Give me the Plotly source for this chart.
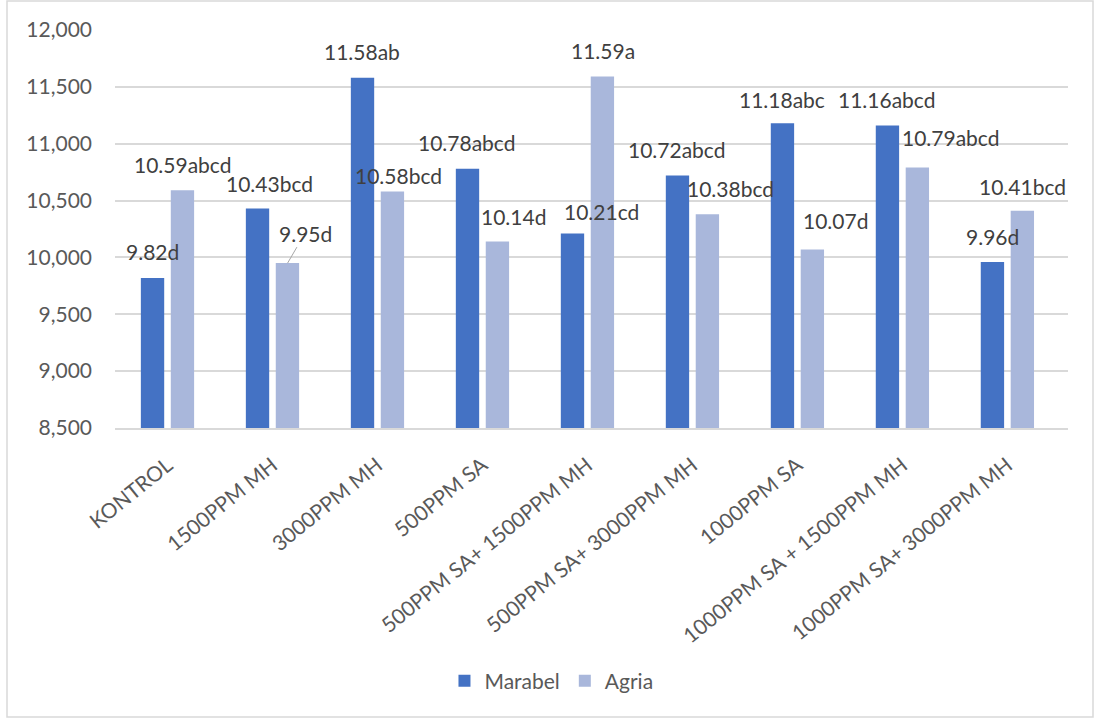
import plotly.graph_objects as go

# Treatments (x categories)
treatments = [
    "KONTROL",
    "1500PPM MH",
    "3000PPM MH",
    "500PPM SA",
    "500PPM SA+ 1500PPM MH",
    "500PPM SA+ 3000PPM MH",
    "1000PPM SA",
    "1000PPM SA + 1500PPM MH",
    "1000PPM SA+ 3000PPM MH",
]

# Yield values per variety
marabel = [9820, 10430, 11580, 10780, 10210, 10720, 11180, 11160, 9960]
agria = [10590, 9950, 10580, 10140, 11590, 10380, 10070, 10790, 10410]

# Significance letters shown after each mean
marabel_letters = ["d", "bcd", "ab", "abcd", "cd", "abcd", "abc", "abcd", "d"]
agria_letters = ["abcd", "d", "bcd", "d", "a", "bcd", "d", "abcd", "bcd"]

# Axis ticks
y_ticks = [8500, 9000, 9500, 10000, 10500, 11000, 11500, 12000]

# ---- styling / placement ----
FONT = "Lato, 'Open Sans', sans-serif"
DARK = "#4472C4"
LIGHT = "#A9B7DB"
GRID = "#D9D9D9"
TXT = "#595959"
LBL = "#404040"

L, R, T, B = 115, 26, 30, 292
W, H = 1094, 720
BAR_OFF = 15.1  # pixel offset of each bar from its category centre

# label offsets in pixels: (right shift from bar centre, height of label centre above bar top)
marabel_lbl_pos = [(0, 26), (12.6, 25.5), (0, 26), (0, 26.7), (28.7, 22.5),
                   (0, 26.5), (0, 24), (0, 26.5), (0, 25)]
agria_lbl_pos = [(0, 26), (17.5, 30), (6.4, 15.5), (15.5, 25.5), (0, 26.6),
                 (23.3, 26), (23.4, 28.5), (33.7, 29.6), (0, 24.7)]

fig = go.Figure()
fig.add_trace(go.Bar(name="Marabel", x=treatments, y=marabel,
                     marker=dict(color=DARK, line=dict(width=0))))
fig.add_trace(go.Bar(name="Agria", x=treatments, y=agria,
                     marker=dict(color=LIGHT, line=dict(width=0))))

annotations = []
for series, letters, pos, off in [
    (marabel, marabel_letters, marabel_lbl_pos, -BAR_OFF),
    (agria, agria_letters, agria_lbl_pos, BAR_OFF),
]:
    for cat, v, let, (dx, dy) in zip(treatments, series, letters, pos):
        text = f"{v / 1000:.2f}{let}"
        if cat == "1500PPM MH" and series is agria:
            # label pulled away from its bar with a leader line
            annotations.append(dict(
                x=cat, y=v, xref="x", yref="y", text=text,
                xshift=off, showarrow=True, ax=dx, ay=-dy,
                arrowhead=0, arrowwidth=1, arrowcolor="#A6A6A6", standoff=0,
                font=dict(family=FONT, size=21, color=LBL),
            ))
        else:
            annotations.append(dict(
                x=cat, y=v, xref="x", yref="y", text=text,
                xshift=off + dx, yshift=dy, showarrow=False,
                xanchor="center", yanchor="middle",
                font=dict(family=FONT, size=21, color=LBL),
            ))

pw, ph = W - L - R, H - T - B
fig.update_layout(
    width=W, height=H,
    margin=dict(l=L, r=R, t=T, b=B, pad=0),
    paper_bgcolor="white", plot_bgcolor="white",
    barmode="group", bargap=0.43, bargroupgap=0.22,
    font=dict(family=FONT, color=TXT),
    showlegend=True,
    legend=dict(orientation="h", x=0.458, y=(428 - 681) / ph,
                xanchor="center", yanchor="middle",
                font=dict(family=FONT, size=21, color=TXT),
                itemwidth=30, traceorder="normal"),
    annotations=annotations,
    shapes=[dict(type="rect", xref="paper", yref="paper",
                 x0=(7 - L) / pw, x1=(1093 - L) / pw,
                 y0=(428 - 717) / ph, y1=(428 - 1) / ph,
                 line=dict(color=GRID, width=1.5), fillcolor="rgba(0,0,0,0)",
                 layer="below")],
)
fig.update_xaxes(
    tickangle=-39, tickfont=dict(family=FONT, size=21, color=TXT),
    showline=True, linecolor=GRID, linewidth=1.5, showgrid=False,
    ticks="", ticklabelstandoff=15,
)
fig.update_yaxes(
    range=[8500, 12000], tickvals=y_ticks, tickformat=",d",
    tickfont=dict(family=FONT, size=21, color=TXT),
    showgrid=True, gridcolor=GRID, gridwidth=1.5,
    showline=False, zeroline=False, ticks="", ticklabelstandoff=22,
)

fig.write_html("out.html")
